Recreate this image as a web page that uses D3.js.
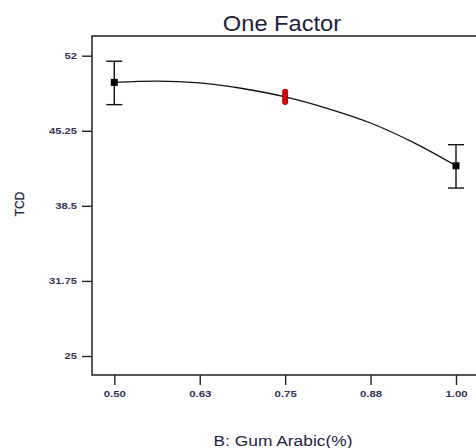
<!DOCTYPE html>
<html>
<head>
<meta charset="utf-8">
<script src="https://cdn.jsdelivr.net/npm/d3@7"></script>
<style>
  body { margin: 0; background: #fff; }
  svg { display: block; font-family: "Liberation Sans", Arial, sans-serif; }
</style>
</head>
<body>
<div class="chart-area"></div>
<script>
const svgWidth = 476
const svgHeight = 448

// data
const xTicks = [0.5, 0.625, 0.75, 0.875, 1.0]
const xTickLabels = ['0.50', '0.63', '0.75', '0.88', '1.00']
const yTicks = [25, 31.75, 38.5, 45.25, 52]
const yTickLabels = ['25', '31.75', '38.5', '45.25', '52']

const designX = [0.5, 1.0]
const designMean = [49.6, 42.1]
const designLow = [47.6, 40.1]
const designHigh = [51.5, 44.0]

const centerX = [0.75, 0.75, 0.75, 0.75]
const centerY = [48.75, 48.45, 48.15, 47.85]

const curveX = [0.5, 0.5625, 0.625, 0.6875, 0.75, 0.8125, 0.875, 0.9375, 1.0]
const curveY = [49.6, 49.72, 49.55, 49.05, 48.3, 47.25, 45.95, 44.2, 42.1]

const frame = { left: 92, top: 36, right: 480, bottom: 375 }
const TEXT_COLOR = '#1e1e40'
const TICK_TEXT_COLOR = '#33335a'
const STRETCH = 1.2 // the original picture is a bit wider than tall

var svg = d3.select('div.chart-area')
  .append('svg')
  .attr('width', svgWidth)
  .attr('height', svgHeight)

var x = d3.scaleLinear().domain([0.5, 1.0]).range([114.3, 456])
var y = d3.scaleLinear().domain([25, 52]).range([356, 55.7])

function widen(sel, factor) {
  sel.each(function () {
    var len = this.getComputedTextLength()
    d3.select(this)
      .attr('textLength', len * factor)
      .attr('lengthAdjust', 'spacingAndGlyphs')
  })
}

// title
svg.append('text')
  .attr('x', 282)
  .attr('y', 30.7)
  .attr('text-anchor', 'middle')
  .attr('font-size', 21.5)
  .attr('fill', TEXT_COLOR)
  .text('One Factor')
  .call(widen, 1.1)

// frame
svg.append('rect')
  .attr('x', frame.left)
  .attr('y', frame.top)
  .attr('width', frame.right - frame.left)
  .attr('height', frame.bottom - frame.top)
  .attr('fill', 'none')
  .attr('stroke', '#111')
  .attr('stroke-width', 1.4)

// y axis
var yAxis = d3.axisLeft(y)
  .tickValues(yTicks)
  .tickSize(10)
  .tickPadding(5)
  .tickFormat((d, i) => yTickLabels[i])

var yg = svg.append('g')
  .attr('transform', `translate(${frame.left},0)`)
  .call(yAxis)
yg.select('.domain').remove()
yg.selectAll('line').attr('stroke', '#222').attr('stroke-width', 1.4)
yg.selectAll('text')
  .attr('font-size', 9.3)
  .attr('font-weight', 'bold')
  .attr('fill', TICK_TEXT_COLOR)
  .attr('font-family', '"Liberation Sans", Arial, sans-serif')
  .call(widen, STRETCH)

// x axis
var xAxis = d3.axisBottom(x)
  .tickValues(xTicks)
  .tickSize(10)
  .tickPadding(5)
  .tickFormat((d, i) => xTickLabels[i])

var xg = svg.append('g')
  .attr('transform', `translate(0,${frame.bottom})`)
  .call(xAxis)
xg.select('.domain').remove()
xg.selectAll('line').attr('stroke', '#222').attr('stroke-width', 1.4)
xg.selectAll('text')
  .attr('font-size', 9.5)
  .attr('font-weight', 'bold')
  .attr('fill', TICK_TEXT_COLOR)
  .attr('font-family', '"Liberation Sans", Arial, sans-serif')
  .call(widen, STRETCH)

// axis titles
svg.append('text')
  .attr('transform', 'translate(24,204) rotate(-90)')
  .attr('text-anchor', 'middle')
  .attr('font-size', 12)
  .attr('fill', TEXT_COLOR)
  .attr('stroke', TEXT_COLOR)
  .attr('stroke-width', 0.3)
  .text('TCD')

svg.append('text')
  .attr('x', 283)
  .attr('y', 445.7)
  .attr('text-anchor', 'middle')
  .attr('font-size', 15.5)
  .attr('fill', TEXT_COLOR)
  .text('B: Gum Arabic(%)')
  .call(widen, 1.12)

// fitted curve
var line = d3.line()
  .x(d => x(d[0]))
  .y(d => y(d[1]))
  .curve(d3.curveMonotoneX)

svg.append('path')
  .datum(curveX.map((v, i) => [v, curveY[i]]))
  .attr('d', line)
  .attr('fill', 'none')
  .attr('stroke', '#111')
  .attr('stroke-width', 1.3)

// error bars at design points
var bars = svg.append('g')
designX.forEach((v, i) => {
  var cx = x(v)
  bars.append('line')
    .attr('x1', cx).attr('x2', cx)
    .attr('y1', y(designHigh[i])).attr('y2', y(designLow[i]))
    .attr('stroke', '#111').attr('stroke-width', 1.4)
  ;[designHigh[i], designLow[i]].forEach(val => {
    bars.append('line')
      .attr('x1', cx - 8).attr('x2', cx + 8)
      .attr('y1', y(val)).attr('y2', y(val))
      .attr('stroke', '#111').attr('stroke-width', 1.4)
  })
  bars.append('rect')
    .attr('x', cx - 3.5)
    .attr('y', y(designMean[i]) - 3.5)
    .attr('width', 7)
    .attr('height', 7)
    .attr('fill', '#000')
})

// center points
svg.append('g')
  .selectAll('circle')
  .data(centerX.map((v, i) => [v, centerY[i]]))
  .join('circle')
  .attr('cx', d => x(d[0]))
  .attr('cy', d => y(d[1]))
  .attr('r', 2.8)
  .attr('fill', '#ee0000')
  .attr('stroke', '#600')
  .attr('stroke-width', 0.6)
</script>
</body>
</html>
